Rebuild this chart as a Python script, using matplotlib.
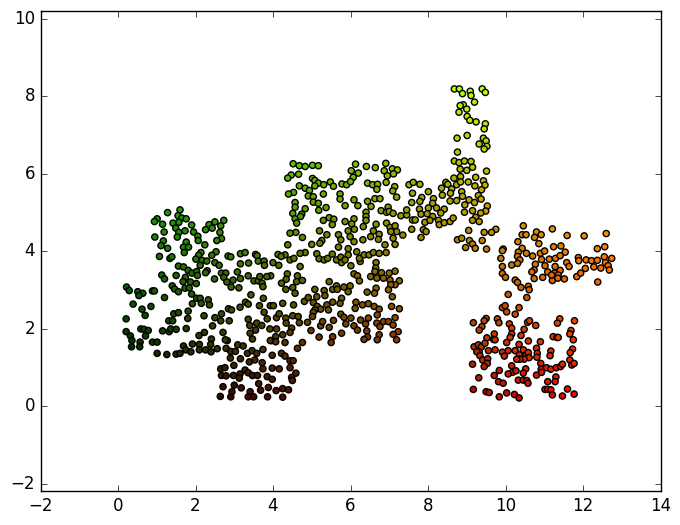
import numpy as np
import matplotlib
matplotlib.use('Agg')
import matplotlib.pyplot as plt

# points, one list per part of the plot
left_top = [(1.60,5.07),(1.28,5.00),(1.01,4.84),(0.94,4.77),(1.15,4.70),(1.55,4.92),(1.65,4.86),(1.76,4.84),(1.42,4.73),(1.57,4.75),
    (1.49,4.60),(1.57,4.49),(1.73,4.53),(1.53,4.37),(1.19,4.50),(0.95,4.37),(1.17,4.27),(1.11,4.15),(1.28,4.08),(1.76,4.24),
    (1.69,4.11),(1.82,4.11),(1.71,3.97),(1.90,4.68),(1.95,4.50),(2.06,4.39),(2.07,4.28),(2.24,4.17),(2.35,4.69),(2.50,4.76),
    (2.73,4.80),(2.65,4.66),(2.26,4.56),(2.43,4.60),(2.63,4.49),(2.67,4.33),(2.55,4.28),(2.53,3.99),(2.42,3.90),(2.14,3.97),
    (2.08,3.90),(1.07,3.87),(1.34,3.82),(1.39,3.86),(2.01,3.80),(2.17,3.77),(2.29,3.75),(2.12,3.64),(2.50,3.71),(2.61,3.64),
    (2.84,3.88),(2.91,3.86),(3.16,3.94),(3.28,3.97),(3.55,3.92),(3.59,3.89),(3.16,3.68),(3.37,3.70),(3.62,3.75),(3.77,3.75),
    (3.78,3.64),(4.00,3.71),(4.13,3.92),(1.56,3.62),(1.69,3.60),(1.81,3.51),(1.91,3.44),(2.03,3.48),(2.30,3.50),(2.26,3.45),
    (2.05,3.38),(1.13,3.39),(1.20,3.29),(1.50,3.38),(1.74,3.33),(1.68,3.22),(1.87,3.21),(1.40,3.11),(1.46,3.03),(1.73,3.05),
    (1.84,3.06),(2.02,3.17),(2.49,3.29),(2.67,3.44),(2.78,3.44),(2.73,3.33),(3.08,3.47),(2.81,3.21),(2.97,3.26),(3.16,3.30),
    (2.92,3.08),(3.12,3.06),(3.36,3.37),(3.51,3.24),(3.62,3.24),(3.66,3.35),(3.94,3.37),(3.84,3.35),(3.72,3.18),(3.74,3.09),
    (4.15,3.64),(0.22,3.08)]

left_bottom = [(0.29,2.99),(0.51,2.96),(0.64,2.92),(0.54,2.86),(0.89,2.98),(0.94,2.98),(1.20,2.81),(1.56,2.96),(1.90,2.90),(2.03,2.79),
    (2.12,2.79),(2.33,2.75),(2.36,2.62),(2.15,2.66),(1.92,2.65),(0.39,2.64),(0.62,2.51),(0.85,2.58),(0.70,2.35),(1.44,2.39),
    (1.56,2.42),(1.81,2.46),(1.80,2.27),(1.31,2.21),(1.41,2.21),(2.22,2.34),(2.50,2.29),(2.67,2.39),(2.65,2.21),(2.85,2.52),
    (2.93,2.49),(3.15,2.56),(3.29,2.69),(3.36,2.64),(3.43,2.88),(3.75,2.79),(3.65,2.60),(3.93,2.60),(4.01,2.60),(3.77,2.43),
    (3.85,2.26),(4.09,2.29),(4.16,2.39),(3.36,2.25),(3.58,2.15),(3.40,2.09),(3.71,2.09),(3.55,1.97),(3.41,1.89),(3.47,1.74),
    (2.87,2.21),(2.44,2.08),(2.71,1.91),(2.23,1.91),(2.09,1.83),(2.41,1.74),(2.39,1.60),(2.82,1.70),(2.77,1.72),(0.21,2.26),
    (0.21,1.93),(0.32,1.82),(0.36,1.70),(0.35,1.54),(0.57,1.66),(0.56,1.54),(0.59,2.00),(0.67,1.99),(0.78,1.96),(0.71,1.82),
    (1.15,1.95),(1.32,1.93),(1.36,2.00),(1.50,1.99),(1.76,2.01),(0.89,1.66),(1.01,1.66),(1.01,1.37),(1.26,1.34),(1.50,1.35),
    (1.60,1.37),(1.69,1.56),(1.75,1.46),(1.88,1.41),(1.92,1.61),(2.10,1.60),(2.10,1.46),(2.26,1.46),(2.40,1.41),(2.56,1.49),
    (2.79,1.50),(2.91,1.42),(3.03,1.42),(3.09,1.59),(3.23,1.56),(3.34,1.37),(3.46,1.44),(3.58,1.37),(3.74,1.47),(2.90,1.25),
    (3.16,1.23),(2.99,1.06),(3.39,1.15),(3.53,1.20),(3.72,1.13),(3.74,0.97),(3.98,1.32),(3.98,0.99),(4.16,0.97),(2.65,0.97),
    (2.76,1.00),(2.67,0.80),(2.79,0.79),(2.98,0.80),(3.15,0.84),(3.13,0.73),(3.28,0.94),(3.36,0.87),(3.47,0.80),(3.60,0.80),
    (3.85,0.77),(3.98,0.70),(3.63,0.59),(3.68,0.42),(3.88,0.49),(4.08,0.41),(2.71,0.51),(3.00,0.55),(3.18,0.48),(2.64,0.26),
    (2.91,0.25),(2.94,0.38),(3.41,0.38),(3.36,0.25),(3.50,0.25),(3.86,0.25),(3.96,1.70),(4.07,1.80),(3.92,2.00),(4.09,2.00),
    (3.93,1.70),(4.07,1.67),(4.22,1.37),(4.31,1.30),(4.44,1.18),(4.52,1.18),(4.44,1.00),(4.59,0.86),(4.48,0.75),(4.50,0.67),
    (4.25,0.46),(4.40,0.43),(4.25,0.24)]

middle_top = [(4.52,6.26),(4.68,6.21),(4.83,6.19),(5.02,6.22),(5.17,6.21),(4.47,5.97),(4.38,5.89),(4.66,5.99),(5.02,5.88),(5.08,5.83),
    (5.17,5.76),(5.08,5.69),(5.31,5.72),(5.48,5.79),(5.56,5.68),(4.68,5.69),(4.83,5.63),(4.94,5.57),(4.91,5.43),(5.04,5.41),
    (5.30,5.48),(4.53,5.52),(4.40,5.48),(4.57,5.26),(5.04,5.27),(5.17,5.24),(5.37,5.13),(5.18,5.06),(4.57,5.14),(4.83,5.10),
    (4.51,4.98),(4.74,4.96),(4.57,4.84),(4.61,4.73),(4.71,4.90),(5.30,4.80),(5.45,4.87),(5.57,4.83),(5.53,4.69),(5.86,4.77),
    (6.09,4.84),(6.03,4.71),(6.33,4.64),(5.20,4.53),(4.59,4.49),(4.44,4.47),(4.76,4.36),(4.38,4.17),(5.26,4.28),(5.39,4.43),
    (5.69,4.43),(5.75,4.30),(5.21,4.21),(5.00,4.18),(5.69,4.11),(5.94,4.53),(6.10,4.57),(5.99,4.38),(6.09,4.25),(6.32,4.30),
    (6.52,4.38),(6.59,4.53),(6.66,4.70),(6.74,4.44),(6.72,4.31),(6.93,4.73),(7.02,4.62),(7.15,4.66),(7.19,4.51),(7.35,4.42),
    (7.04,4.51),(7.10,4.34),(7.15,4.18),(6.89,4.17),(5.94,4.07),(6.13,6.25),(6.02,6.08),(6.20,6.02),(6.07,5.91),(6.41,6.19),
    (6.64,6.16),(6.91,6.27),(6.87,6.08),(7.08,6.13),(7.21,6.10),(7.11,6.00),(6.95,5.95),(6.92,5.78),(6.44,5.76),(6.57,5.72),
    (6.70,5.73),(6.68,5.60),(5.78,5.74),(5.90,5.72),(6.00,5.80),(5.73,5.48),(5.73,5.35),(5.86,5.18),(6.09,5.33),(6.19,5.18),
    (6.44,5.29),(6.53,5.16),(6.63,5.36),(6.76,5.36),(6.40,5.01),(6.40,4.90),(6.40,4.80),(6.79,5.05),(6.97,5.14),(6.93,5.01),
    (7.00,5.03),(7.10,4.98),(7.14,5.67),(7.09,5.56),(7.19,5.40),(7.30,4.92),(7.45,4.94),(7.51,5.72),(7.45,5.07)]

middle_bottom = [(5.13,3.94),(4.83,3.97),(4.70,3.95),(4.31,3.91),(4.21,3.87),(4.44,3.78),(4.54,3.82),(4.70,3.61),(5.19,3.81),(5.32,3.78),
    (5.41,3.82),(5.53,3.93),(5.64,3.78),(5.75,3.85),(5.77,3.71),(5.94,3.91),(6.01,3.63),(5.86,3.78),(6.25,3.74),(6.23,3.82),
    (6.16,3.99),(6.35,3.91),(6.48,3.91),(6.59,3.97),(6.74,3.95),(6.92,3.97),(6.66,3.71),(6.65,3.57),(6.09,3.42),(6.18,3.37),
    (6.23,3.24),(6.52,3.35),(6.63,3.48),(6.68,3.31),(6.80,3.45),(6.85,3.31),(7.00,3.44),(7.15,3.49),(7.02,3.26),(7.26,3.24),
    (7.15,3.14),(7.04,3.14),(6.98,3.01),(4.37,3.42),(4.63,3.37),(4.34,3.28),(4.61,3.22),(4.76,3.25),(4.22,3.18),(4.33,3.02),
    (4.51,3.07),(4.57,2.92),(5.45,3.22),(5.08,3.02),(5.54,3.02),(5.64,3.11),(5.66,3.02),(5.83,3.08),(5.99,3.11),(5.94,2.96),
    (5.32,2.99),(5.34,2.86),(6.43,2.95),(6.66,3.05),(6.62,2.92),(7.08,2.83),(5.77,2.79),(5.73,2.66),(5.54,2.69),(5.13,2.83),
    (4.81,2.71),(4.91,2.81),(5.04,2.68),(5.14,2.58),(5.23,2.51),(5.39,2.62),(5.43,2.49),(5.08,2.49),(5.04,2.43),(5.02,2.32),
    (4.53,2.62),(4.25,2.66),(6.14,2.69),(6.12,2.53),(6.31,2.62),(6.46,2.65),(6.61,2.58),(6.74,2.51),(6.69,2.36),(7.06,2.58),
    (7.26,2.52),(5.75,2.38),(5.83,2.30),(5.88,2.13),(6.01,2.28),(6.09,2.08),(6.18,1.97),(6.26,2.23),(6.39,2.13),(6.46,2.28),
    (5.56,2.22),(5.45,2.04),(5.23,2.08),(5.28,2.19),(4.89,2.17),(4.98,1.96),(4.51,2.34),(4.65,2.32),(4.68,2.16),(4.33,2.28),
    (4.34,2.15),(4.48,2.02),(4.44,1.91),(4.25,1.85),(6.68,2.15),(6.76,2.06),(6.85,2.19),(6.98,2.19),(7.15,2.29),(7.10,2.10),
    (7.23,1.93),(7.10,1.86),(7.19,1.72),(6.74,1.85),(6.69,1.72),(6.42,1.95),(6.44,1.79),(6.35,1.73),(5.77,1.89),(5.54,1.80),
    (5.50,1.65),(5.19,1.79),(4.76,1.65),(4.31,1.65),(4.63,1.50)]

tower = [(8.68,8.19),(8.81,8.19),(8.89,8.07),(9.09,8.13),(9.11,8.02),(9.40,8.19),(9.48,8.10),(9.20,7.85),(8.91,7.78),(9.00,7.67),
    (8.83,7.76),(8.80,7.59),(9.01,7.48),(9.08,7.38),(9.24,7.34),(9.48,7.29),(9.45,7.16),(9.01,6.99),(8.75,6.92),(9.43,6.92),
    (9.50,6.85),(9.32,6.77),(9.52,6.71),(9.45,6.64),(8.76,6.56),(8.68,6.33),(8.80,6.29),(8.94,6.33),(9.11,6.32),(8.83,6.12),
    (9.00,6.09),(9.15,6.17),(9.51,6.07),(8.84,5.93),(8.67,5.89),(9.23,5.91),(9.04,5.79),(9.43,5.82),(9.21,5.69),(9.47,5.71),
    (8.46,5.78),(8.51,5.73),(8.74,5.72),(8.84,5.79),(8.35,5.63),(8.61,5.61),(8.01,5.54),(8.37,5.45),(8.58,5.50),(8.87,5.54),
    (9.38,5.59),(9.30,5.44),(9.37,5.35),(8.89,5.42),(8.57,5.30),(8.74,5.31),(8.95,5.20),(9.06,5.33),(9.20,5.26),(9.53,5.17),
    (9.49,5.04),(9.15,5.05),(8.94,5.01),(9.36,4.99),(9.23,4.88),(7.62,5.78),(7.79,5.73),(7.60,5.50),(7.84,5.39),(7.79,5.29),
    (7.58,5.26),(8.14,5.36),(8.12,5.24),(7.78,5.09),(8.01,5.12),(8.22,5.12),(8.42,5.09),(8.33,4.99),(7.82,4.96),(7.98,4.97),
    (8.12,4.90),(7.60,4.81),(7.67,4.81),(7.92,4.75),(8.05,4.80),(8.27,4.80),(8.29,4.69),(8.42,4.74),(8.57,4.77),(8.65,4.86),
    (7.58,4.57),(7.88,4.56),(7.95,4.51),(7.82,4.36),(8.76,4.30)]

right_top = [(9.15,4.80),(9.32,4.77),(9.75,4.57),(9.64,4.49),(9.45,4.49),(9.05,4.54),(8.87,4.34),(9.07,4.28),(9.15,4.19),(9.40,4.28),
    (8.97,4.10),(9.22,4.08),(9.51,4.06),(10.46,4.66),(11.21,4.58),(10.80,4.50),(10.43,4.43),(10.53,4.43),(10.92,4.43),(10.75,4.36),
    (11.59,4.41),(12.03,4.40),(12.60,4.46),(10.86,4.20),(10.32,4.25),(9.94,4.06),(9.92,4.02),(10.43,4.08),(11.24,4.12),(11.43,4.14),
    (12.56,4.12),(12.37,4.07),(10.33,3.98),(10.54,3.95),(10.70,3.88),(10.90,3.95),(11.01,4.01),(11.54,3.98),(10.31,3.87),(10.37,3.78),
    (9.88,3.82),(10.93,3.79),(11.13,3.80),(11.29,3.82),(11.41,3.89),(11.88,3.84),(11.89,3.76),(12.08,3.78),(12.22,3.76),(12.37,3.77),
    (12.55,3.86),(12.74,3.82),(12.58,3.71),(10.16,3.65),(10.31,3.69),(9.92,3.61),(10.77,3.67),(11.02,3.63),(11.58,3.71),(11.64,3.61),
    (11.28,3.61),(12.28,3.60),(12.46,3.57),(12.65,3.63),(12.68,3.52),(12.06,3.56),(10.74,3.52),(10.68,3.47),(11.09,3.47),(11.41,3.51),
    (11.26,3.44),(9.92,3.43),(10.00,3.33),(10.96,3.33),(10.74,3.30),(11.21,3.25),(11.36,3.39),(11.35,3.31),(11.52,3.29),(11.84,3.35),
    (11.94,3.44),(10.25,3.26),(10.31,3.20),(10.40,3.07),(10.59,3.10),(10.61,3.01),(12.38,3.21),(10.07,2.89),(10.55,2.81),(11.19,3.39)]

right_bottom = [(9.92,2.55),(9.99,2.60),(10.03,2.44),(10.25,2.38),(10.35,2.55),(9.50,2.27),(9.45,2.21),(9.17,2.16),(9.39,2.06),(9.32,1.97),
    (9.79,2.26),(9.83,2.16),(10.10,2.13),(10.16,2.02),(10.57,2.17),(10.62,2.21),(10.78,2.09),(10.48,1.99),(10.16,1.87),(10.40,1.83),
    (9.71,1.87),(9.69,1.73),(9.52,1.77),(9.73,1.72),(10.12,1.78),(10.03,1.65),(10.35,1.60),(10.59,1.69),(10.90,1.67),(11.23,1.80),
    (11.33,1.78),(11.36,1.78),(11.40,2.26),(11.34,2.15),(11.78,2.21),(11.69,1.96),(11.66,1.87),(11.75,1.72),(9.19,1.54),(9.30,1.59),
    (9.38,1.54),(9.47,1.63),(9.32,1.41),(9.26,1.41),(9.56,1.44),(9.73,1.46),(9.92,1.40),(9.97,1.30),(10.07,1.44),(10.25,1.44),
    (10.46,1.46),(10.36,1.33),(10.53,1.33),(10.59,1.39),(10.61,1.26),(10.48,1.22),(10.37,1.22),(10.29,1.22),(10.80,1.50),(10.82,1.37),
    (10.81,1.27),(11.17,1.43),(11.15,1.31),(11.73,1.48),(11.67,1.39),(11.66,1.20),(11.71,1.07),(11.77,1.11),(9.34,1.31),(9.41,1.20),
    (9.54,1.23),(9.53,1.11),(9.15,1.09),(9.45,1.03),(10.16,1.05),(9.84,0.93),(10.18,0.88),(10.27,0.92),(10.52,0.97),(10.46,0.86),
    (10.07,0.84),(9.71,0.80),(10.91,1.11),(10.92,0.96),(11.06,1.00),(11.17,0.96),(11.31,1.00),(11.42,1.03),(11.47,1.09),(10.80,0.81),
    (10.93,0.88),(11.30,0.76),(11.28,0.64),(11.09,0.64),(10.33,0.68),(10.46,0.68),(10.55,0.67),(10.58,0.60),(9.82,0.64),(9.94,0.60),
    (9.31,0.74),(9.17,0.44),(9.50,0.38),(9.58,0.36),(9.84,0.25),(10.03,0.35),(10.23,0.31),(10.35,0.22),(11.02,0.44),(11.09,0.44),
    (11.17,0.43),(11.21,0.30),(11.47,0.27),(11.60,0.45),(11.77,0.32)]

plt.style.use('classic')

points = np.array(left_top + left_bottom + middle_top + middle_bottom + tower + right_top + right_bottom)
x = points[:, 0]
y = points[:, 1]

# red follows x, green follows y
colors = np.zeros((len(x), 3))
colors[:, 0] = x / x.max()
colors[:, 1] = y / y.max()

fig = plt.figure(figsize=(6.8, 5.25), dpi=100, facecolor='white')
ax = fig.add_axes([40.5/680, 1 - 491/525, 620/680, 480/525])
ax.scatter(x, y, c=colors, s=20, edgecolors='k', linewidths=1)
ax.set_xlim(-2, 14)
ax.set_ylim(-2.18, 10.2)
ax.set_xticks(np.arange(-2, 15, 2))
ax.set_yticks(np.arange(-2, 11, 2))
fig.savefig('out.png', dpi=100, facecolor='white')
